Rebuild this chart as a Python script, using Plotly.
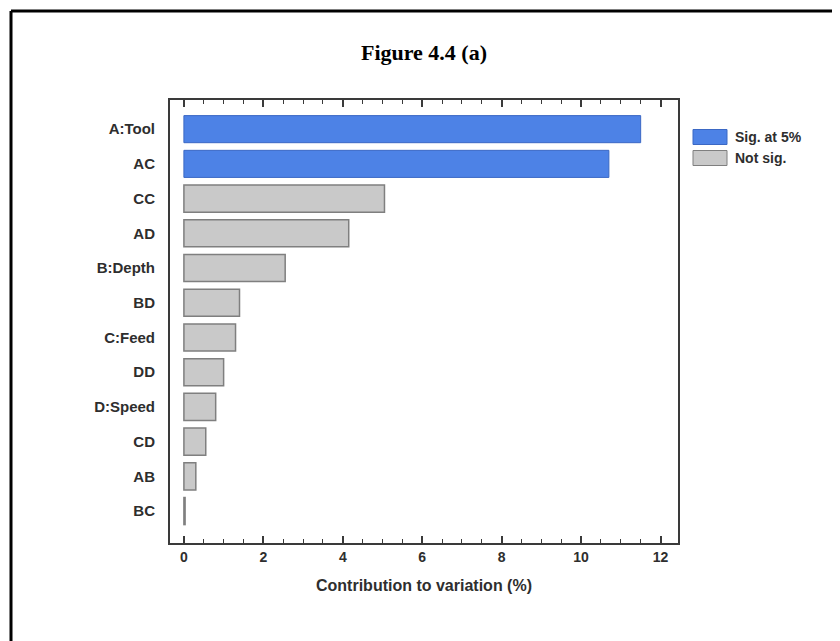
import plotly.graph_objects as go

# Pareto-style contribution chart (Figure 4.4 a)
factors = ["A:Tool", "AC", "CC", "AD", "B:Depth", "BD", "C:Feed", "DD", "D:Speed", "CD", "AB", "BC"]
contribution = [11.5, 10.7, 5.05, 4.15, 2.55, 1.4, 1.3, 1.0, 0.8, 0.55, 0.3, 0.03]
significant = [True, True, False, False, False, False, False, False, False, False, False, False]
legend_names = ["Sig. at 5%", "Not sig."]

sig_y = [f for f, s in zip(factors, significant) if s]
sig_x = [c for c, s in zip(contribution, significant) if s]
ns_y = [f for f, s in zip(factors, significant) if not s]
ns_x = [c for c, s in zip(contribution, significant) if not s]

W, H = 840, 641
L, R, T, B = 162, 170, 92, 106
pw, ph = W - L - R, H - T - B

def px(x):
    return (x - L) / pw

def py(y):
    return (H - B - y) / ph

blue, blue_edge = "#4d82e6", "#3b68c4"
grey, grey_edge = "#c9c9c9", "#7f7f7f"
txt = "#2e2e2e"
axis_col = "#3a3a3a"

fig = go.Figure()
fig.add_trace(go.Bar(
    y=sig_y, x=sig_x, orientation="h", name=legend_names[0],
    marker=dict(color=blue, line=dict(color=blue_edge, width=1)),
))
fig.add_trace(go.Bar(
    y=ns_y, x=ns_x, orientation="h", name=legend_names[1],
    marker=dict(color=grey, line=dict(color=grey_edge, width=1.5)),
))

# hand-drawn legend so the swatches are wide rectangles like the original
shapes = []
annotations = []
for i, (name, fc, ec) in enumerate(zip(legend_names, [blue, grey], [blue_edge, grey_edge])):
    cy = 129 + i * 21
    shapes.append(dict(type="rect", xref="paper", yref="paper",
                       x0=px(685), x1=px(719), y0=py(cy - 7.5), y1=py(cy + 7.5),
                       fillcolor=fc, line=dict(color=ec, width=1)))
    annotations.append(dict(text="<b>%s</b>" % name, xref="paper", yref="paper",
                            x=px(725), y=py(cy), xanchor="left", yanchor="middle",
                            showarrow=False, font=dict(size=14, color=txt)))

# outer figure frame (only top and left edges are visible in the original)
shapes.append(dict(type="line", xref="paper", yref="paper", x0=px(3), x1=px(W + 5), y0=py(3), y1=py(3),
                   line=dict(color="black", width=3)))
shapes.append(dict(type="line", xref="paper", yref="paper", x0=px(3), x1=px(3), y0=py(3), y1=py(H + 5),
                   line=dict(color="black", width=3)))

fig.update_layout(
    width=W, height=H,
    margin=dict(l=L, r=R, t=T, b=B),
    paper_bgcolor="white", plot_bgcolor="white",
    barmode="overlay", bargap=0.22, showlegend=False,
    font=dict(family="Liberation Sans, Arial", color=txt),
    title=dict(
        text="<b>Figure 4.4 (a)</b>", x=0.5, xref="paper", y=1 - 44 / H, yanchor="middle",
        font=dict(family="Liberation Serif, Times New Roman", size=22, color="black"),
    ),
    xaxis=dict(
        range=[-0.35, 12.44], tickmode="array", tickvals=[0, 2, 4, 6, 8, 10, 12],
        ticks="inside", ticklen=7, tickwidth=1.5, tickcolor=axis_col,
        minor=dict(ticks="inside", dtick=0.5, ticklen=4, tickwidth=1.2, tickcolor=axis_col),
        showline=True, linecolor=axis_col, linewidth=2, mirror="ticks",
        showgrid=False, zeroline=False,
        tickfont=dict(size=14, color=txt, weight="bold"),
        title=dict(text="<b>Contribution to variation (%)</b>", font=dict(size=16, color=txt), standoff=16),
    ),
    yaxis=dict(
        type="category", categoryorder="array", categoryarray=factors,
        range=[11.92, -0.84],
        showline=True, linecolor=axis_col, linewidth=2, mirror=True,
        showgrid=False, ticks="", ticklabelstandoff=10,
        tickfont=dict(size=15, color=txt, weight="bold"),
    ),
    shapes=shapes,
    annotations=annotations,
)

fig.write_html("out.html")
